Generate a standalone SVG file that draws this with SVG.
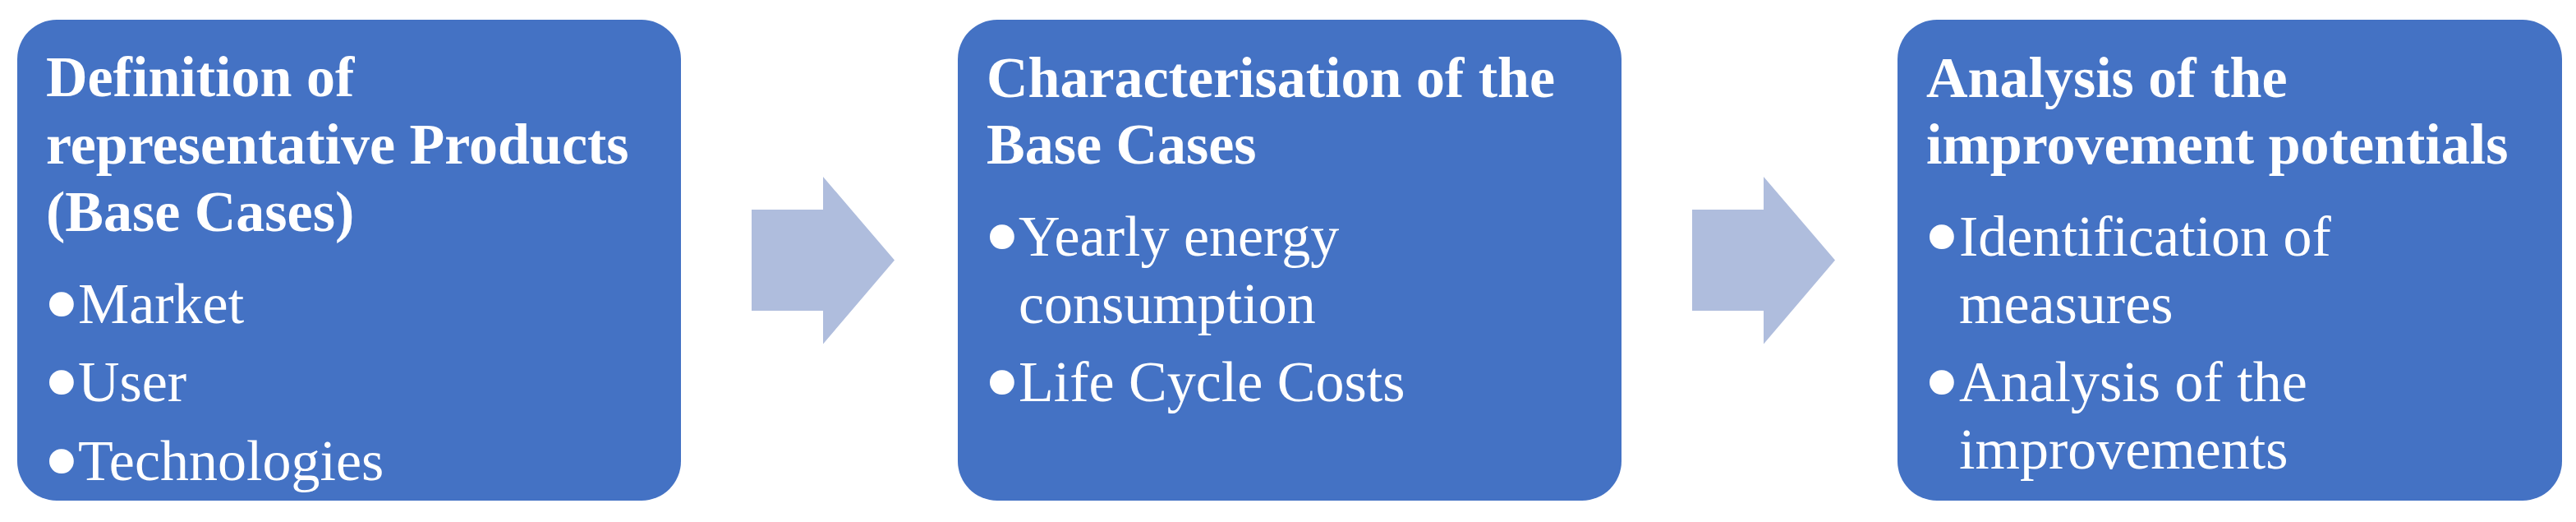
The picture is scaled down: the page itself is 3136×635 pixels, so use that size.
<svg xmlns="http://www.w3.org/2000/svg" width="3136" height="635" viewBox="0 0 3136 635">
<style>
.box{fill:#4472C4}
.arr{fill:#AFBDDD}
.t{font-family:"Liberation Serif","Times New Roman",serif;font-size:70px;fill:#FFFFFF}
.b{font-weight:bold}
.bul{font-size:125px}
</style>
<rect width="3136" height="635" fill="#FFFFFF"/>
<g id="connectors">
<polygon class="arr" points="915,255 1002,255 1002,215 1089,316.5 1002,418.5 1002,378 915,378"/>
<polygon class="arr" points="2060,255 2147,255 2147,215 2234,316.5 2147,418.5 2147,378 2060,378"/>
</g>
<g id="node1">
<rect class="box" x="21" y="24" width="808" height="585" rx="48" ry="48"/>
<text class="t b" x="56" y="117">Definition of</text>
<text class="t b" x="56" y="199">representative Products</text>
<text class="t b" x="56" y="281">(Base Cases)</text>
<text class="t" x="53" y="393"><tspan class="bul" dy="19">•</tspan><tspan x="95" dy="-19">Market</tspan></text>
<text class="t" x="53" y="488"><tspan class="bul" dy="19">•</tspan><tspan x="95" dy="-19">User</tspan></text>
<text class="t" x="53" y="584"><tspan class="bul" dy="19">•</tspan><tspan x="95" dy="-19">Technologies</tspan></text>
</g>
<g id="node2">
<rect class="box" x="1166" y="24" width="808" height="585" rx="48" ry="48"/>
<text class="t b" x="1201" y="118">Characterisation of the</text>
<text class="t b" x="1201" y="199">Base Cases</text>
<text class="t" x="1198" y="311"><tspan class="bul" dy="19">•</tspan><tspan x="1240" dy="-19">Yearly energy</tspan></text>
<text class="t" x="1240" y="393">consumption</text>
<text class="t" x="1198" y="488"><tspan class="bul" dy="19">•</tspan><tspan x="1240" dy="-19">Life Cycle Costs</tspan></text>
</g>
<g id="node3">
<rect class="box" x="2310" y="24" width="809" height="585" rx="48" ry="48"/>
<text class="t b" x="2345" y="118">Analysis of the</text>
<text class="t b" x="2345" y="199">improvement potentials</text>
<text class="t" x="2342" y="311"><tspan class="bul" dy="19">•</tspan><tspan x="2385" dy="-19">Identification of</tspan></text>
<text class="t" x="2385" y="393">measures</text>
<text class="t" x="2342" y="488"><tspan class="bul" dy="19">•</tspan><tspan x="2385" dy="-19">Analysis of the</tspan></text>
<text class="t" x="2385" y="570">improvements</text>
</g>
</svg>
